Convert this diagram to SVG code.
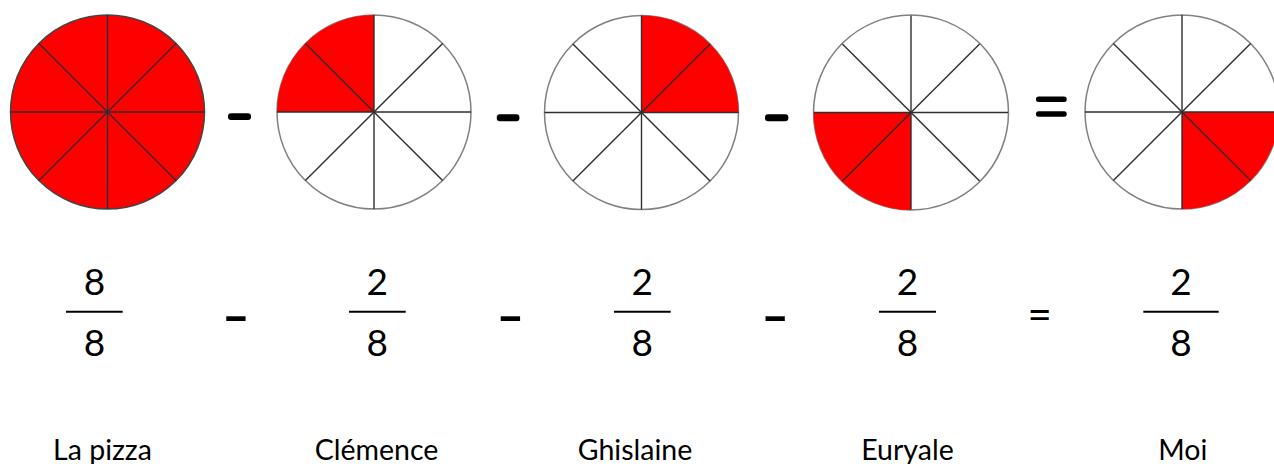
<svg xmlns="http://www.w3.org/2000/svg" width="1274" height="464" viewBox="0 0 1274 464">
  <style>
    .bg { fill: #ffffff; }
    .disc { fill: #ffffff; stroke: #808080; stroke-width: 1.5; }
    .disc-full { fill: #ff0000; stroke: #444444; stroke-width: 1.5; }
    .slice { fill: #ff0000; stroke: none; }
    .spoke { stroke: #2e2e2e; stroke-width: 1.4; fill: none; }
    .op { fill: #000000; }
    .num { font-family: Lato, "Liberation Sans", sans-serif; font-size: 37px; fill: #000000; text-anchor: middle; }
    .sign { font-family: Lato, "Liberation Sans", sans-serif; font-size: 45px; font-weight: bold; fill: #000000; text-anchor: middle; }
    .eq { font-family: Lato, "Liberation Sans", sans-serif; font-size: 42px; fill: #000000; text-anchor: middle; }
    .bar { stroke: #000000; stroke-width: 2; }
    .label { font-family: Lato, "Liberation Sans", sans-serif; font-size: 28.5px; fill: #000000; text-anchor: middle; }
  </style>
  <defs>
    <!-- eight spokes of a pie cut into eighths, radius 97 -->
    <g id="spokes" class="spoke">
      <line x1="-97" y1="0" x2="97" y2="0"/>
      <line x1="0" y1="-97" x2="0" y2="97"/>
      <line x1="-68.6" y1="-68.6" x2="68.6" y2="68.6"/>
      <line x1="-68.6" y1="68.6" x2="68.6" y2="-68.6"/>
    </g>
  </defs>

  <rect class="bg" x="0" y="0" width="1274" height="464"/>

  <!-- whole pizza: all eight slices -->
  <g id="pie-pizza" transform="translate(107.5,112)">
    <circle class="disc-full" r="97"/>
    <use href="#spokes"/>
  </g>

  <!-- Clémence: upper-left quarter -->
  <g id="pie-clemence" transform="translate(374,112)">
    <circle class="disc" r="97"/>
    <path class="slice" d="M0,0 L-97,0 A97,97 0 0 1 0,-97 Z"/>
    <use href="#spokes"/>
  </g>

  <!-- Ghislaine: upper-right quarter -->
  <g id="pie-ghislaine" transform="translate(641.5,112.5)">
    <circle class="disc" r="97"/>
    <path class="slice" d="M0,0 L0,-97 A97,97 0 0 1 97,0 Z"/>
    <use href="#spokes"/>
  </g>

  <!-- Euryale: lower-left quarter -->
  <g id="pie-euryale" transform="translate(911,112.5)">
    <circle class="disc" r="97.5"/>
    <path class="slice" d="M0,0 L0,97.5 A97.5,97.5 0 0 1 -97.5,0 Z"/>
    <use href="#spokes"/>
  </g>

  <!-- Moi: lower-right quarter -->
  <g id="pie-moi" transform="translate(1182,112)">
    <circle class="disc" r="97"/>
    <path class="slice" d="M0,0 L97,0 A97,97 0 0 1 0,97 Z"/>
    <use href="#spokes"/>
  </g>

  <!-- operators between the pies -->
  <g id="pie-operators">
    <rect class="op" x="228" y="113.3" width="23" height="6.8" rx="3"/>
    <rect class="op" x="496.8" y="114.3" width="22.6" height="7" rx="3"/>
    <rect class="op" x="765" y="114.3" width="23.3" height="7" rx="3"/>
    <rect class="op" x="1036" y="96.5" width="30.7" height="5.4" rx="2.5"/>
    <rect class="op" x="1036" y="111.2" width="30.7" height="5.6" rx="2.5"/>
  </g>

  <!-- fractions -->
  <g id="frac-pizza">
    <text class="num" x="94.5" y="295">8</text>
    <line class="bar" x1="66" y1="311.7" x2="122.7" y2="311.7"/>
    <text class="num" x="94.5" y="355.5">8</text>
  </g>
  <g id="frac-clemence">
    <text class="num" x="377.3" y="295">2</text>
    <line class="bar" x1="349" y1="311.7" x2="405.7" y2="311.7"/>
    <text class="num" x="377.3" y="355.5">8</text>
  </g>
  <g id="frac-ghislaine">
    <text class="num" x="642.3" y="295">2</text>
    <line class="bar" x1="614" y1="311.7" x2="670.7" y2="311.7"/>
    <text class="num" x="642.3" y="355.5">8</text>
  </g>
  <g id="frac-euryale">
    <text class="num" x="907.5" y="295">2</text>
    <line class="bar" x1="879" y1="311.7" x2="936" y2="311.7"/>
    <text class="num" x="907.5" y="355.5">8</text>
  </g>
  <g id="frac-moi">
    <text class="num" x="1181" y="295">2</text>
    <line class="bar" x1="1143.3" y1="311.7" x2="1218.7" y2="311.7"/>
    <text class="num" x="1181" y="355.5">8</text>
  </g>

  <!-- operators between the fractions (hyphens stretched wide) -->
  <g id="frac-operators">
    <text class="sign" transform="translate(236,332.5) scale(1.66,1)">-</text>
    <text class="sign" transform="translate(510.5,332.5) scale(1.66,1)">-</text>
    <text class="sign" transform="translate(775.3,332.5) scale(1.66,1)">-</text>
    <text class="eq" x="1039.7" y="329">=</text>
  </g>

  <!-- names -->
  <g id="labels">
    <text class="label" x="102.5" y="460">La pizza</text>
    <text class="label" x="376.5" y="460">Clémence</text>
    <text class="label" x="635" y="460">Ghislaine</text>
    <text class="label" x="907.5" y="460">Euryale</text>
    <text class="label" x="1182.8" y="460">Moi</text>
  </g>
</svg>
